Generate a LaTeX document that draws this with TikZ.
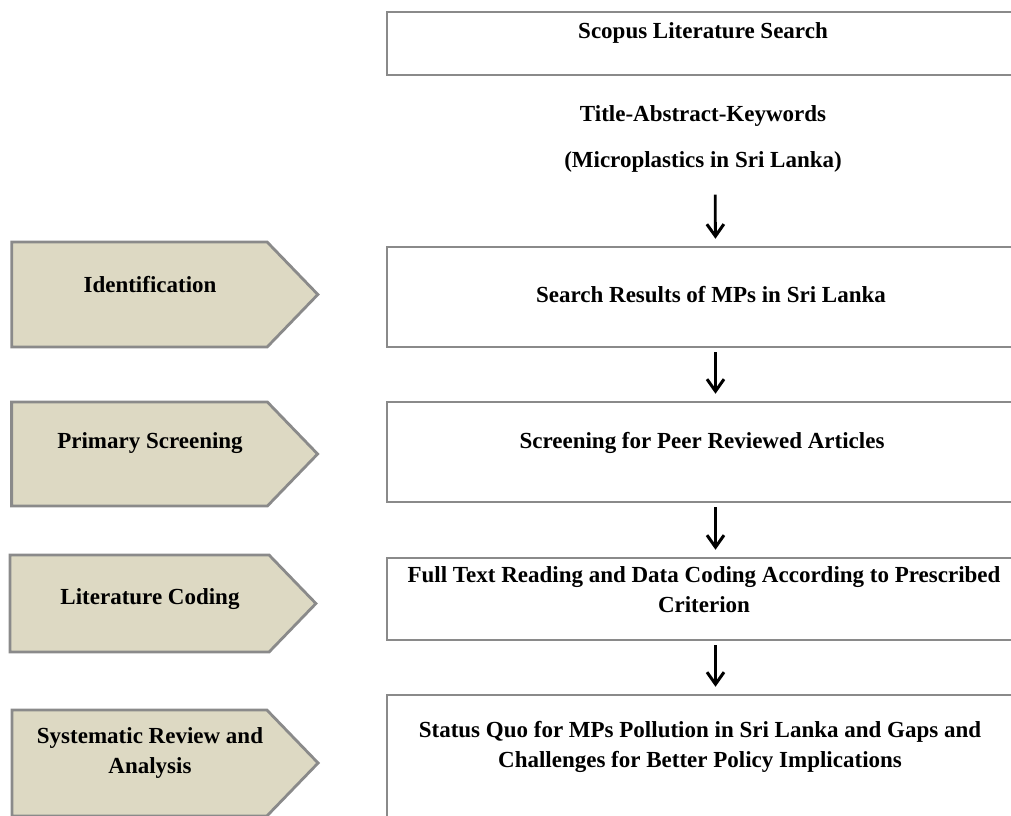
\documentclass[tikz,border=0pt]{standalone}
\usepackage{fontspec}
\setmainfont{Liberation Serif}
\usetikzlibrary{positioning, arrows.meta, shapes.symbols}
\definecolor{tanfill}{HTML}{DDD9C3}
\definecolor{edgegray}{HTML}{8A8A8A}

\begin{document}
\begin{tikzpicture}[
  x=1pt, y=-1pt,
  stepbox/.style={rectangle, draw=edgegray, line width=2.5pt,
                  minimum width=633pt, inner sep=0pt},
  phase/.style={signal, signal to=east, signal pointer angle=92,
                draw=edgegray, fill=tanfill, line width=2.8pt,
                minimum width=306pt, inner sep=0pt},
  txt/.style={font=\fontsize{23}{30}\selectfont\bfseries, align=center,
              inner sep=0pt},
  arrow/.style={-{Straight Barb[length=12pt,width=17pt,line width=3pt]},
                line width=2.8pt, shorten <=4pt, shorten >=7pt},
]
\useasboundingbox (0,0) rectangle (1011,815);
\clip (0,0) rectangle (1011,815);

% right-hand steps
\node[stepbox, minimum height=63pt]  at (703.5, 43.5) (scopus) {};
\node[stepbox, minimum height=100pt] at (703.5, 297)  (search) {};
\node[stepbox, minimum height=100pt] at (703.5, 452)  (screen) {};
\node[stepbox, minimum height=82pt]  at (703.5, 599)  (coding) {};
\node[stepbox, minimum height=165pt] at (703.5, 777.5) (status) {};

\node[txt] at (703, 33)  (scopustxt) {Scopus Literature Search};
\node[txt, font=\fontsize{23}{46}\selectfont\bfseries] at (703, 139) (keywords)
  {Title-Abstract-Keywords\\(Microplastics in Sri Lanka)};
\node[txt] at (711, 295) (searchtxt) {Search Results of MPs in Sri Lanka};
\node[txt] at (702, 443) (screentxt) {Screening for Peer Reviewed Articles};
\node[txt] at (704, 590) (codingtxt) {Full Text Reading and Data Coding According to Prescribed\\Criterion};
\node[txt] at (700, 747) (statustxt) {Status Quo for MPs Pollution in Sri Lanka and Gaps and\\Challenges for Better Policy Implications};

% left-hand phases
\node[phase, minimum height=105pt] at (139.5, 294.5) (ident) {};
\node[phase, minimum height=104pt] at (139.5, 454)   (primary) {};
\node[phase, minimum height=97pt]  at (139.5, 603.5) (litcode) {};
\node[phase, minimum height=106pt] at (139.5, 763)   (sysrev) {};

\node[txt] at (150, 285) (identtxt) {Identification};
\node[txt] at (150, 443) (primarytxt) {Primary Screening};
\node[txt] at (150, 599) (litcodetxt) {Literature Coding};
\node[txt] at (150, 753) (sysrevtxt) {Systematic Review and\\Analysis};

% flow
\draw[arrow, shorten <=22pt] ([xshift=12pt]keywords.south) -- ([xshift=12pt]search.north);
\draw[arrow] ([xshift=12pt]search.south) -- ([xshift=12pt]screen.north);
\draw[arrow] ([xshift=12pt]screen.south) -- ([xshift=12pt]coding.north);
\draw[arrow] ([xshift=12pt]coding.south) -- ([xshift=12pt]status.north);
\end{tikzpicture}
\end{document}
